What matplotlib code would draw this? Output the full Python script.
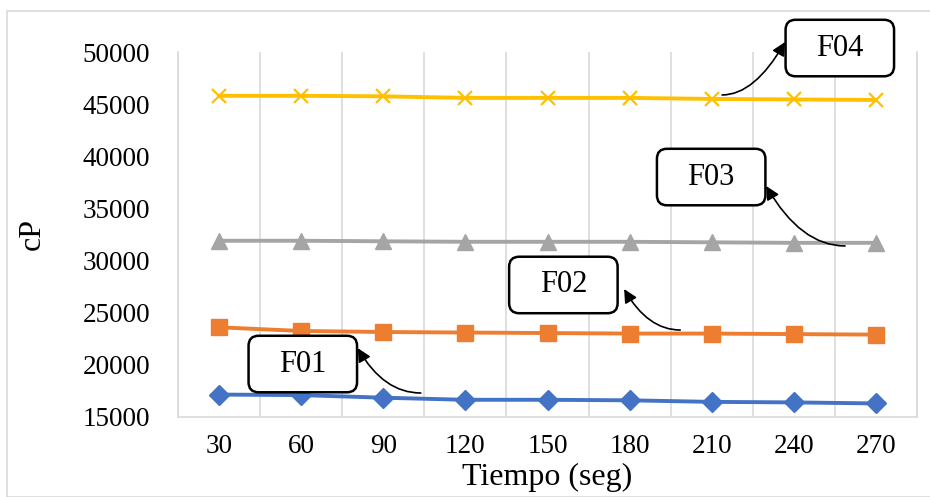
import numpy as np
import matplotlib.pyplot as plt
from matplotlib.patches import BoxStyle

plt.rcParams['font.family'] = ['Liberation Serif', 'DejaVu Serif']

# data
tiempo = [30, 60, 90, 120, 150, 180, 210, 240, 270]
f01 = [17150, 17100, 16850, 16650, 16650, 16600, 16450, 16400, 16300]
f02 = [23600, 23250, 23150, 23100, 23050, 23000, 23000, 22950, 22900]
f03 = [31900, 31900, 31850, 31800, 31800, 31800, 31750, 31700, 31700]
f04 = [45800, 45800, 45750, 45600, 45600, 45600, 45500, 45450, 45400]
names = ['F01', 'F02', 'F03', 'F04']

colors = ['#4472C4', '#ED7D31', '#A5A5A5', '#FFC000']
markers = ['D', 's', '^', 'x']
msizes = [10, 11, 12, 10]


def callout_box(x0, y0, w, h, mutation_size):
    # rounded box, wider padding left/right than top/bottom
    px, py = 1.0 * mutation_size, 0.45 * mutation_size
    return BoxStyle.Round(pad=0, rounding_size=0.33)(x0 - px, y0 - py, w + 2 * px, h + 2 * py,
                                                     mutation_size)


fig = plt.figure(figsize=(9.3, 4.97), dpi=100)
ax = fig.add_axes([178/930, 1 - 417/497, (917-178)/930, (417-52)/497])

# outer chart border
fig.patches.append(plt.Rectangle((7/930, 0), 1.1, 1 - 11/497, transform=fig.transFigure,
                                 fill=False, edgecolor='#d9d9d9', lw=1.2))

for s, c, m, ms in zip([f01, f02, f03, f04], colors, markers, msizes):
    ax.plot(tiempo, s, color=c, lw=2.8, marker=m, markersize=ms,
            markeredgewidth=1.6 if m == 'x' else 1, zorder=3)

ax.set_xlim(15, 285)
ax.set_ylim(15000, 50000)
ax.set_xticks(tiempo)
ax.set_xticks(np.arange(15, 286, 30), minor=True)
ax.set_yticks(np.arange(15000, 50001, 5000))
ax.grid(True, which='minor', axis='x', color='#d9d9d9', lw=1.2)
ax.tick_params(axis='both', which='both', length=0, labelsize=19.5)
ax.tick_params(axis='y', pad=20)
ax.tick_params(axis='x', pad=12)
for side in ['left', 'bottom', 'right']:
    ax.spines[side].set_color('#d9d9d9')
    ax.spines[side].set_linewidth(1.2)
ax.spines['top'].set_visible(False)

ax.set_xlabel('Tiempo (seg)', fontsize=23, labelpad=3)
ax.set_ylabel('cP', fontsize=23, labelpad=26)

# callout boxes (data coords) and arrows (start near the line, tip at the box)
box_xy = [(60.6, 20080), (155.8, 27660), (209.8, 38010), (256.8, 50380)]
arr_start = [(103.7, 17300), (198.5, 23340), (258.7, 31400), (213.8, 45880)]
arr_tip = [(80.7, 21600), (178, 27270), (229.9, 37150), (236.8, 50960)]
arr_style = ['angle3,angleA=0,angleB=120', 'angle3,angleA=0,angleB=120',
             'angle3,angleA=0,angleB=120', 'angle3,angleA=0,angleB=60']

for name, bxy, a0, a1, cs in zip(names, box_xy, arr_start, arr_tip, arr_style):
    ax.text(bxy[0], bxy[1], name, fontsize=22, ha='center', va='center',
            bbox=dict(boxstyle=callout_box, fc='white', ec='black', lw=1.8),
            zorder=5, clip_on=False)
    ax.annotate('', xy=a1, xytext=a0, annotation_clip=False,
                arrowprops=dict(arrowstyle='-|>', mutation_scale=20, color='black',
                                lw=1.2, connectionstyle=cs, shrinkA=0, shrinkB=0))

fig.savefig('out.png', dpi=100)
